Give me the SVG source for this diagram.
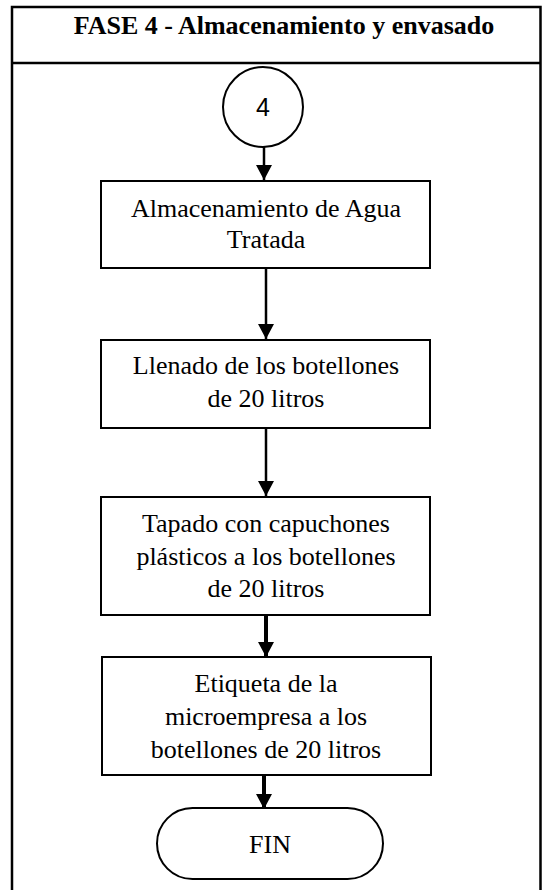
<svg xmlns="http://www.w3.org/2000/svg" width="542" height="890" viewBox="0 0 542 890">
<style>
.frame{fill:none;stroke:#000;stroke-width:2.5}
.box{fill:#fff;stroke:#000;stroke-width:2}
.t{font-family:'Liberation Serif',serif;font-size:26px;fill:#000;text-anchor:middle}
.title{font-family:'Liberation Serif',serif;font-size:26px;font-weight:bold;fill:#000;text-anchor:middle}
.s{font-family:'Liberation Sans',sans-serif;font-size:25px;fill:#000;text-anchor:middle}
.c{stroke:#000;stroke-width:2.5;fill:none}
.ck{stroke:#000;stroke-width:4;fill:none}
</style>
<defs>
<marker id="ah" markerUnits="userSpaceOnUse" markerWidth="16" markerHeight="16" refX="15" refY="8" orient="auto">
<path d="M0,0 L15,8 L0,16 Z" fill="#000"/>
</marker>
</defs>
<g id="frame">
<path class="frame" d="M540.5,890 V7 H12 V890"/>
<line class="frame" x1="12" y1="63" x2="540.5" y2="63"/>
<text class="title" x="284" y="34">FASE 4 - Almacenamiento y envasado</text>
</g>
<g id="connectors">
<line class="c" x1="264" y1="147" x2="264" y2="180" marker-end="url(#ah)"/>
<line class="c" x1="266" y1="268" x2="266" y2="339" marker-end="url(#ah)"/>
<line class="c" x1="266" y1="428" x2="266" y2="496" marker-end="url(#ah)"/>
<line class="ck" x1="266" y1="615" x2="266" y2="657" marker-end="url(#ah)"/>
<line class="ck" x1="264" y1="775" x2="264" y2="809" marker-end="url(#ah)"/>
</g>
<g id="n4">
<circle cx="263" cy="107" r="40" fill="#fff" stroke="#000" stroke-width="2"/>
<text class="s" x="263" y="116">4</text>
</g>
<g id="n1">
<rect class="box" x="101" y="181" width="329" height="87"/>
<text class="t" x="266" y="217">Almacenamiento de Agua</text>
<text class="t" x="266" y="248">Tratada</text>
</g>
<g id="n2">
<rect class="box" x="101" y="340" width="329" height="88"/>
<text class="t" x="266" y="374">Llenado de los botellones</text>
<text class="t" x="266" y="407">de 20 litros</text>
</g>
<g id="n3">
<rect class="box" x="101" y="497" width="329" height="118"/>
<text class="t" x="266" y="532">Tapado con capuchones</text>
<text class="t" x="266" y="565">plásticos a los botellones</text>
<text class="t" x="266" y="597">de 20 litros</text>
</g>
<g id="n5">
<rect class="box" x="102" y="657" width="329" height="118"/>
<text class="t" x="266" y="692">Etiqueta de la</text>
<text class="t" x="266" y="725">microempresa a los</text>
<text class="t" x="266" y="758">botellones de 20 litros</text>
</g>
<g id="fin">
<rect x="157" y="808" width="226" height="71" rx="35.5" ry="35.5" fill="#fff" stroke="#000" stroke-width="2"/>
<text class="t" x="270" y="853">FIN</text>
</g>
</svg>
